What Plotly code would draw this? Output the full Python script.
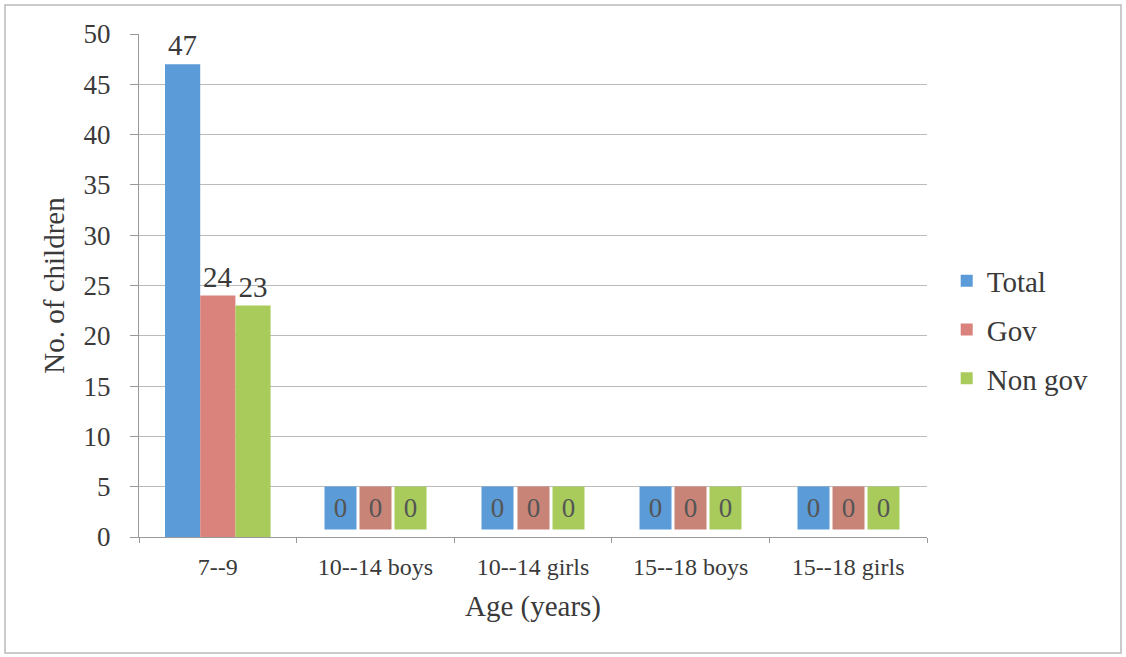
import plotly.graph_objects as go

# Children by age group, split by school type
categories = ["7--9", "10--14 boys", "10--14 girls", "15--18 boys", "15--18 girls"]
total = [47, 0, 0, 0, 0]
gov = [24, 0, 0, 0, 0]
non_gov = [23, 0, 0, 0, 0]
series_names = ["Total", "Gov", "Non gov"]
colors = ["#5B9BD7", "#DA827C", "#A9CB5C"]
zero_box_colors = ["#5B9BD7", "#C98478", "#A9CB5C"]
y_ticks = [0, 5, 10, 15, 20, 25, 30, 35, 40, 45, 50]

FONT = "'Liberation Serif', 'Times New Roman', 'DejaVu Serif', serif"
TXT = "#3a3a3a"
W, H = 1126, 657
ML, MR, MT, MB = 139, 199, 34, 120
plot_w = W - ML - MR
plot_h = H - MT - MB
bargap = 0.33
bar_px = plot_w / len(categories) * (1 - bargap) / 3

fig = go.Figure()
all_series = [total, gov, non_gov]
for i, (name, vals, col) in enumerate(zip(series_names, all_series, colors)):
    fig.add_trace(go.Bar(
        x=categories, y=vals, name=name, marker_color=col,
        marker_line_width=0,
        text=[str(v) if v != 0 else "" for v in vals],
        textposition="outside", cliponaxis=False,
        textfont=dict(family=FONT, size=29, color=TXT),
        legendgroup=name,
    ))
    # zero values are shown as coloured label boxes
    for cat, v in zip(categories, vals):
        if v == 0:
            fig.add_annotation(
                x=cat, y=2.85, xref="x", yref="y", text=str(v),
                xshift=(i - 1) * bar_px, showarrow=False,
                bgcolor=zero_box_colors[i], width=bar_px - 6, height=40,
                font=dict(family=FONT, size=27, color="#555555"),
            )

# outer chart border
def px_to_paper_x(px):
    return (px - ML) / plot_w

def px_to_paper_y(py):
    return (H - MB - py) / plot_h

fig.add_shape(type="rect", xref="paper", yref="paper",
              x0=px_to_paper_x(5), x1=px_to_paper_x(1121),
              y0=px_to_paper_y(653), y1=px_to_paper_y(5),
              line=dict(color="#BBBBBB", width=1.5), layer="below")

fig.update_layout(
    width=W, height=H,
    margin=dict(l=ML, r=MR, t=MT, b=MB),
    paper_bgcolor="white", plot_bgcolor="white",
    barmode="group", bargap=bargap, bargroupgap=0,
    font=dict(family=FONT, color=TXT),
    legend=dict(x=1.025, y=px_to_paper_y(330), yanchor="middle", xanchor="left",
                font=dict(family=FONT, size=29, color=TXT),
                tracegroupgap=8, itemwidth=30),
    showlegend=True,
)
fig.update_xaxes(
    title=dict(text="Age (years)", font=dict(family=FONT, size=29, color=TXT), standoff=16),
    tickfont=dict(family=FONT, size=24, color=TXT),
    ticklabelstandoff=8,
    showline=True, linecolor="#999999", linewidth=1,
    ticks="outside", tickson="boundaries", ticklen=5, tickcolor="#999999",
    showgrid=False,
)
fig.update_yaxes(
    title=dict(text="No. of children", font=dict(family=FONT, size=29, color=TXT), standoff=10),
    tickfont=dict(family=FONT, size=27, color=TXT),
    ticklabelstandoff=14,
    range=[0, 50], tickvals=y_ticks,
    showline=True, linecolor="#999999", linewidth=1,
    ticks="outside", ticklen=8, tickcolor="#999999",
    showgrid=True, gridcolor="#BBBBBB", gridwidth=1,
    zeroline=False,
)

fig.write_html("out.html")
